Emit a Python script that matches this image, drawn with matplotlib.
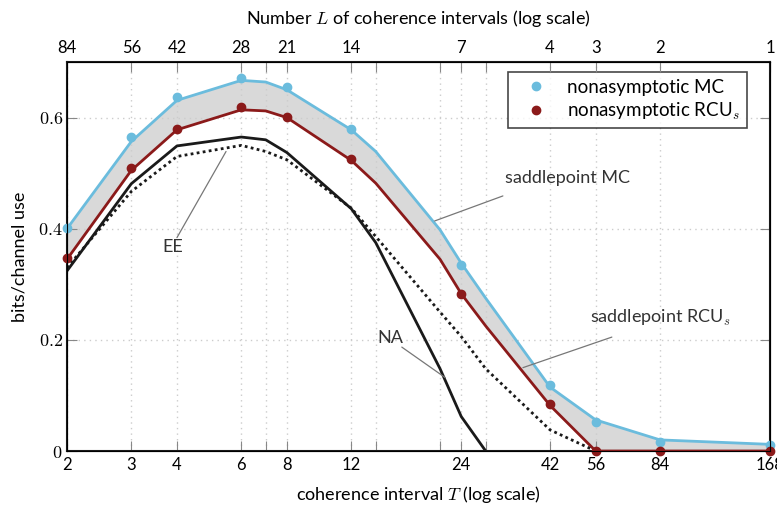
import numpy as np
import matplotlib
matplotlib.use("Agg")
import matplotlib.pyplot as plt
from matplotlib.ticker import FixedLocator, NullLocator, FixedFormatter

plt.rcParams['font.family'] = ['Lato', 'DejaVu Sans']
plt.rcParams['mathtext.fontset'] = 'cm'

# coherence interval T where the curves have vertices
T_line = [2, 3, 4, 6, 7, 8, 12, 14, 21, 24, 28, 42, 56, 84, 168]
saddle_mc = [0.400, 0.557, 0.631, 0.667, 0.664, 0.650, 0.578, 0.539, 0.398, 0.338, 0.275, 0.115, 0.056, 0.020, 0.012]
saddle_rcu = [0.345, 0.505, 0.578, 0.614, 0.612, 0.600, 0.523, 0.482, 0.345, 0.283, 0.225, 0.082, 0.0, 0.0, 0.0]

T_na = [2, 3, 4, 6, 7, 8, 12, 14, 21, 24, 28]
na = [0.324, 0.481, 0.549, 0.565, 0.560, 0.537, 0.436, 0.375, 0.148, 0.062, 0.0]

T_ee = [2, 3, 4, 6, 7, 8, 12, 14, 21, 24, 28, 42, 56]
ee = [0.330, 0.467, 0.530, 0.550, 0.539, 0.524, 0.437, 0.386, 0.250, 0.206, 0.148, 0.038, 0.0]

# nonasymptotic points
T_pts = [2, 3, 4, 6, 8, 12, 24, 42, 56, 84, 168]
nonasym_mc = [0.402, 0.565, 0.637, 0.671, 0.655, 0.580, 0.334, 0.118, 0.052, 0.016, 0.010]
nonasym_rcu = [0.347, 0.509, 0.579, 0.619, 0.601, 0.525, 0.283, 0.085, 0.0, 0.0, 0.0]

tick_T = [2, 3, 4, 6, 7, 8, 12, 14, 21, 24, 28, 42, 56, 84, 168]
label_T = [2, 3, 4, 6, 8, 12, 24, 42, 56, 84, 168]
label_L = [84, 56, 42, 28, 21, 14, 7, 4, 3, 2, 1]

# curve labels: text position, leader start, leader end (data coords)
labels = [
    ('saddlepoint MC', (47.0, 0.491), (31.2, 0.459), (20.3, 0.414)),
    ('saddlepoint RCU$_s$', (84.0, 0.240), (62.0, 0.205), (35.4, 0.150)),
    ('NA', (15.3, 0.204), (16.5, 0.187), (21.7, 0.132)),
    ('EE', (3.9, 0.368), (4.0, 0.384), (5.45, 0.539)),
]

blue = '#6bbcdd'
red = '#8b1a1a'

fig = plt.figure(figsize=(7.77, 5.05), dpi=100)
ax = fig.add_axes([0.0862, 0.1069, 0.9048, 0.7703])

ax.fill_between(T_line, saddle_rcu, saddle_mc, color='#d9d9d9', lw=0, zorder=1)
ax.plot(T_line, saddle_mc, color=blue, lw=2, zorder=3)
ax.plot(T_line, saddle_rcu, color=red, lw=2, zorder=3)
ax.plot(T_na, na, color='#1a1a1a', lw=2, zorder=3)
ax.plot(T_ee, ee, color='#1a1a1a', lw=2, ls=(0, (1, 1.2)), zorder=3)
ax.plot(T_pts, nonasym_mc, 'o', color=blue, ms=6, zorder=4, clip_on=False, label='nonasymptotic MC')
ax.plot(T_pts, nonasym_rcu, 'o', color=red, ms=6, zorder=4, clip_on=False, label='nonasymptotic RCU$_s$')

ax.set_xscale('log')
ax.set_xlim(2, 168)
ax.set_ylim(0, 0.7)

ax.xaxis.set_major_locator(FixedLocator(tick_T))
ax.xaxis.set_major_formatter(FixedFormatter([str(t) if t in label_T else '' for t in tick_T]))
ax.xaxis.set_minor_locator(NullLocator())
ax.set_yticks([0, 0.2, 0.4, 0.6])
ax.set_yticklabels(['$0$', '$0.2$', '$0.4$', '$0.6$'], fontsize=13)

ax.tick_params(axis='x', direction='in', length=7, color='#888888', labelsize=12, pad=4)
ax.tick_params(axis='y', direction='in', length=7, color='#888888', right=True, pad=3)
ax.grid(True, color='#cccccc', ls=(0, (1, 3)), lw=1)
for s in ax.spines.values():
    s.set_linewidth(1.5)
    s.set_color('#1a1a1a')

ax.set_xlabel('coherence interval $T$ (log scale)', fontsize=13, labelpad=8)
ax.set_ylabel('bits/channel use', fontsize=13, labelpad=8)

top = ax.twiny()
top.set_xscale('log')
top.set_xlim(ax.get_xlim())
top.xaxis.set_major_locator(FixedLocator(tick_T))
top.xaxis.set_major_formatter(FixedFormatter([str(label_L[label_T.index(t)]) if t in label_T else '' for t in tick_T]))
top.xaxis.set_minor_locator(NullLocator())
top.tick_params(axis='x', direction='in', length=7, color='#888888', labelsize=12, pad=4)
top.set_xlabel('Number $L$ of coherence intervals (log scale)', fontsize=13, labelpad=12)

leg = ax.legend(loc='upper right', bbox_to_anchor=(0.967, 0.974), borderaxespad=0, fontsize=13.5,
                frameon=True, fancybox=False, edgecolor='#1a1a1a', handletextpad=0.5,
                handlelength=2.3, borderpad=0.35, labelspacing=0.25)
leg.get_frame().set_linewidth(1.2)

for text, pos, start, end in labels:
    ax.text(pos[0], pos[1], text, fontsize=13, ha='center', va='center', color='#333333')
    ax.annotate('', xy=end, xytext=start,
                arrowprops=dict(arrowstyle='-', color='#777777', lw=0.9, shrinkA=0, shrinkB=0))

fig.savefig('out.png', dpi=100)
